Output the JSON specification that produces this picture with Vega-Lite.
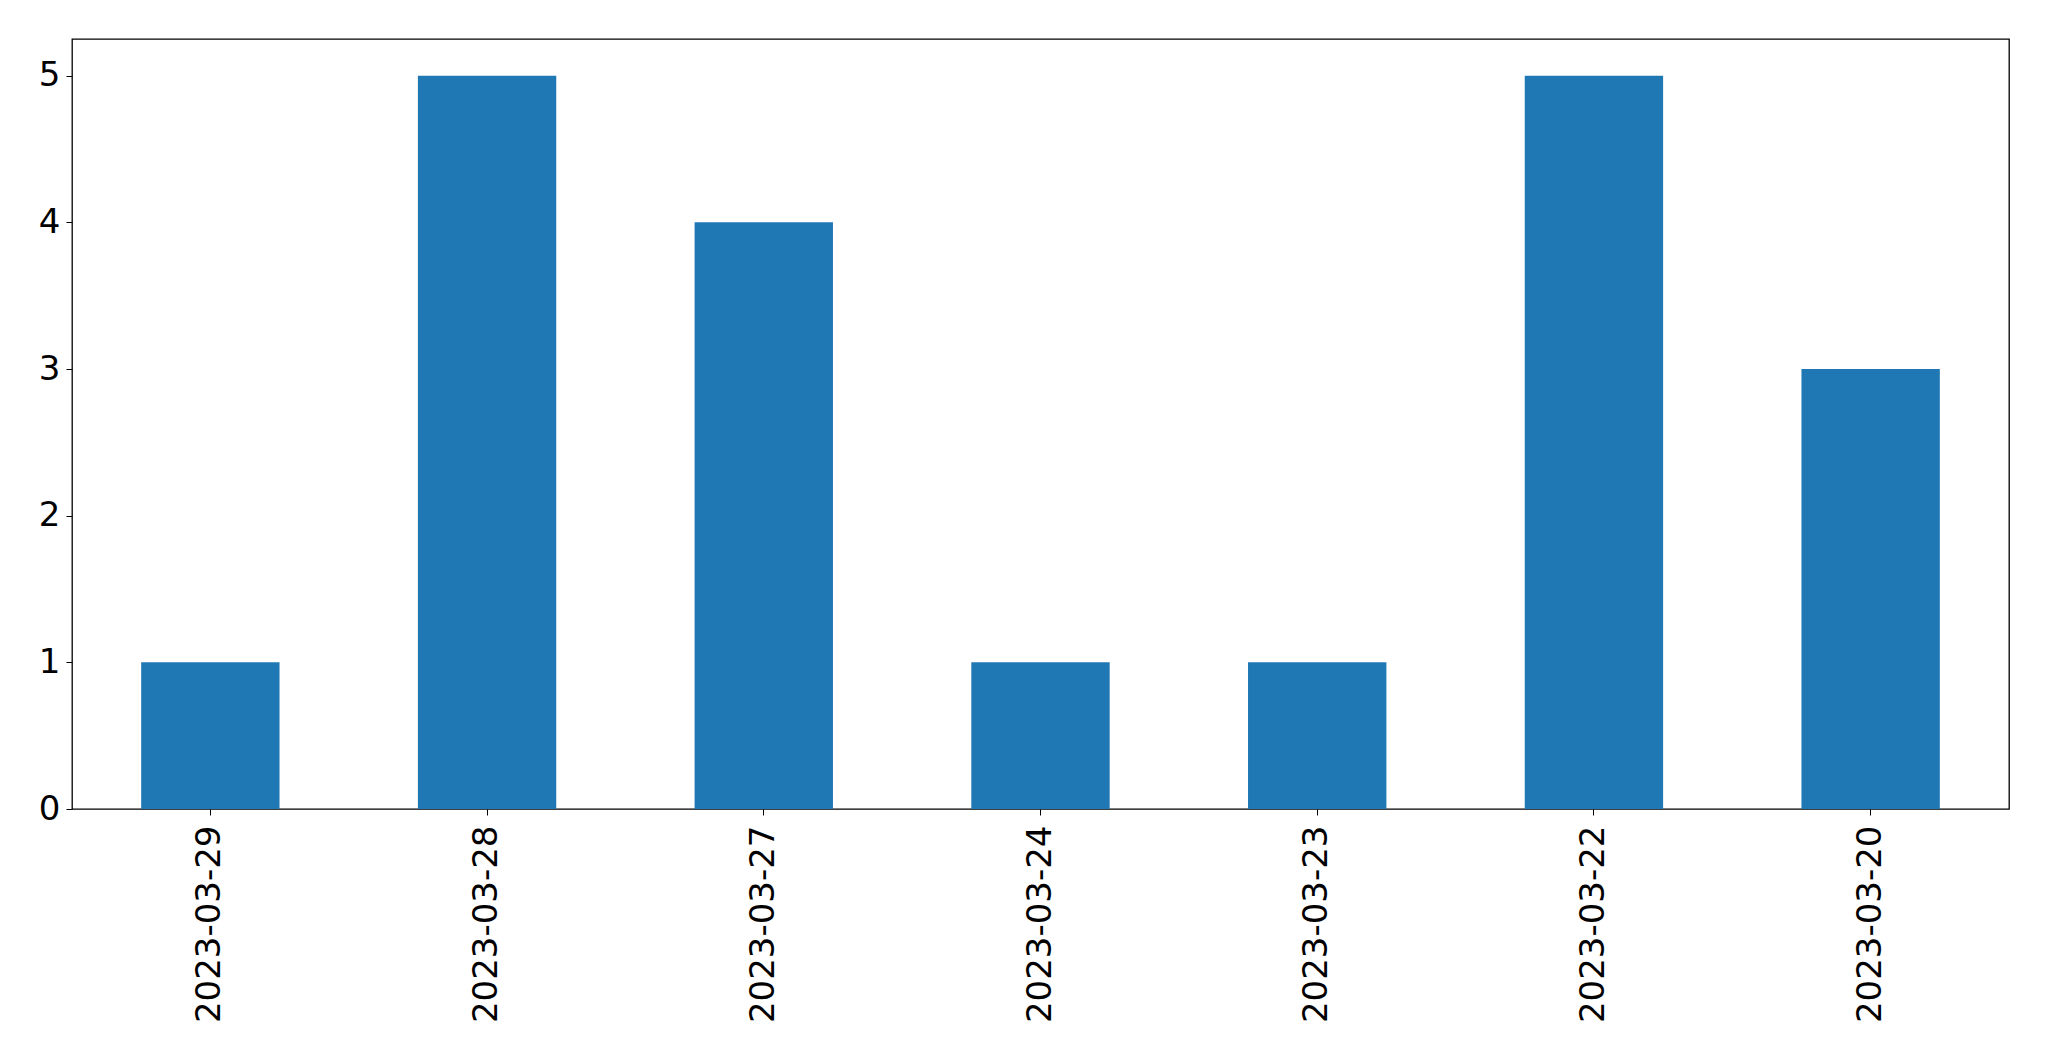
{
  "$schema": "https://vega.github.io/schema/vega-lite/v6.json",
  "autosize": {"type": "none"},
  "width": 1937,
  "height": 770,
  "padding": {"left": 72, "top": 39, "right": 40, "bottom": 252},
  "background": "white",
  "config": {
    "view": {"stroke": "black", "strokeWidth": 1.3},
    "font": "DejaVu Sans"
  },
  "data": {
    "values": [
      {"date": "2023-03-29", "count": 1},
      {"date": "2023-03-28", "count": 5},
      {"date": "2023-03-27", "count": 4},
      {"date": "2023-03-24", "count": 1},
      {"date": "2023-03-23", "count": 1},
      {"date": "2023-03-22", "count": 5},
      {"date": "2023-03-20", "count": 3}
    ]
  },
  "mark": {"type": "bar", "color": "#1f77b4"},
  "encoding": {
    "x": {
      "field": "date",
      "type": "nominal",
      "sort": null,
      "scale": {"paddingInner": 0.5, "paddingOuter": 0.25},
      "axis": {
        "title": null,
        "labelAngle": -90,
        "labelAlign": "right",
        "labelBaseline": "middle",
        "labelFontSize": 34,
        "labelLimit": 0,
        "labelColor": "black",
        "labelPadding": 10,
        "tickSize": 6,
        "tickColor": "black",
        "domain": false,
        "grid": false
      }
    },
    "y": {
      "field": "count",
      "type": "quantitative",
      "scale": {"domain": [0, 5.25], "nice": false},
      "axis": {
        "title": null,
        "values": [0, 1, 2, 3, 4, 5],
        "labelFontSize": 34,
        "labelColor": "black",
        "labelPadding": 6,
        "tickSize": 6,
        "tickColor": "black",
        "domain": false,
        "grid": false
      }
    }
  }
}
